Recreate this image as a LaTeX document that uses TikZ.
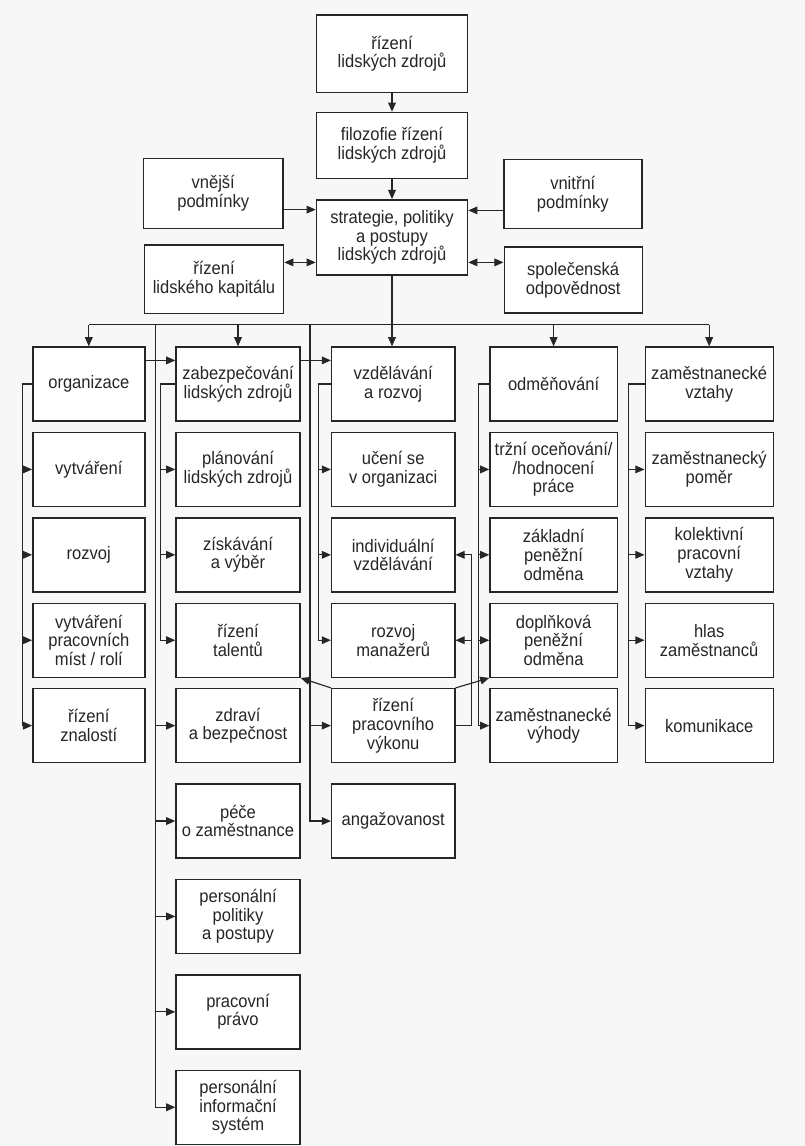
\documentclass[tikz,border=0pt]{standalone}
\usepackage{fontspec}
\setmainfont{Liberation Sans}[FakeStretch=0.92]
\usetikzlibrary{arrows.meta,positioning}

\begin{document}
\begin{tikzpicture}[->,>={Triangle[length=6.5pt,width=5.5pt]},thick,color=black!85,
                    node distance=0.25cm,
                    main node/.style={rectangle,draw,fill=white,line width=1pt,
                      minimum width=#1,minimum height=1.85cm,inner sep=1pt,align=center,
                      font=\fontsize{12.8}{13.3}\selectfont},
                    main node/.default=3.1cm]

  \fill[black!3,-] (0,0) rectangle (20.125,-28.65);

  % top part
  \node[main node=3.78cm,minimum height=1.93cm] (1) at (9.8,-1.34) {řízení\\lidských zdrojů};
  \node[main node=3.78cm,minimum height=1.65cm] (2) [below=0.47cm of 1] {filozofie řízení\\lidských zdrojů};
  \node[main node=3.78cm,minimum height=1.88cm] (3) [below=0.5cm of 2] {strategie, politiky\\a postupy\\lidských zdrojů};
  \node[main node=3.48cm,minimum height=1.75cm] (4) at (5.33,-4.83) {vnější\\podmínky};
  \node[main node=3.45cm,minimum height=1.72cm] (5) at (14.32,-4.85) {vnitřní\\podmínky};
  \node[main node=3.48cm,minimum height=1.72cm] (6) at (5.35,-6.98) {řízení\\lidského kapitálu};
  \node[main node=3.45cm,minimum height=1.65cm] (7) at (14.33,-7.0) {společenská\\odpovědnost};

  % organizace
  \node[main node=2.8cm] (10) at (2.22,-9.6) {organizace};
  \node[main node=2.8cm] (11) [below=of 10] {vytváření};
  \node[main node=2.8cm] (12) [below=of 11] {rozvoj};
  \node[main node=2.8cm] (13) [below=of 12] {vytváření\\pracovních\\míst / rolí};
  \node[main node=2.8cm] (14) [below=of 13] {řízení\\znalostí};

  % zabezpecovani
  \node[main node] (20) at (5.95,-9.6) {zabezpečování\\lidských zdrojů};
  \node[main node] (21) [below=of 20] {plánování\\lidských zdrojů};
  \node[main node] (22) [below=of 21] {získávání\\a výběr};
  \node[main node] (23) [below=of 22] {řízení\\talentů};
  \node[main node] (24) [below=of 23] {zdraví\\a bezpečnost};
  \node[main node] (25) [below=0.5cm of 24] {péče\\o zaměstnance};
  \node[main node] (26) [below=0.5cm of 25] {personální\\politiky\\a postupy};
  \node[main node] (27) [below=0.5cm of 26] {pracovní\\právo};
  \node[main node] (28) [below=0.5cm of 27] {personální\\informační\\systém};

  % vzdelavani
  \node[main node=3.08cm] (30) at (9.83,-9.6) {vzdělávání\\a rozvoj};
  \node[main node=3.08cm] (31) [below=of 30] {učení se\\v organizaci};
  \node[main node=3.08cm] (32) [below=of 31] {individuální\\vzdělávání};
  \node[main node=3.08cm] (33) [below=of 32] {rozvoj\\manažerů};
  \node[main node=3.08cm] (34) [below=of 33] {řízení\\pracovního\\výkonu};
  \node[main node=3.08cm] (35) [below=0.5cm of 34] {angažovanost};

  % odmenovani
  \node[main node=3.18cm] (40) at (13.84,-9.6) {odměňování};
  \node[main node=3.18cm] (41) [below=of 40] {tržní oceňování/\\/hodnocení\\práce};
  \node[main node=3.18cm] (42) [below=of 41] {základní\\peněžní\\odměna};
  \node[main node=3.18cm] (43) [below=of 42] {doplňková\\peněžní\\odměna};
  \node[main node=3.18cm] (44) [below=of 43] {zaměstnanecké\\výhody};

  % vztahy
  \node[main node=3.2cm] (50) at (17.73,-9.6) {zaměstnanecké\\vztahy};
  \node[main node=3.2cm] (51) [below=of 50] {zaměstnanecký\\poměr};
  \node[main node=3.2cm] (52) [below=of 51] {kolektivní\\pracovní\\vztahy};
  \node[main node=3.2cm] (53) [below=of 52] {hlas\\zaměstnanců};
  \node[main node=3.2cm] (54) [below=of 53] {komunikace};

  \path (1) edge (2)
        (2) edge (3)
        (3.south) edge (3.south |- 30.north);
  \draw (4.east |- 0,-5.24) -- (3.west |- 0,-5.24);
  \draw (5.west |- 0,-5.26) -- (3.east |- 0,-5.26);
  \draw[<->] (6.east |- 0,-6.56) -- (3.west |- 0,-6.56);
  \draw[<->] (3.east |- 0,-6.56) -- (7.west |- 0,-6.56);

  % bus
  \coordinate (bus) at (3.south |- 0,-8.12);
  \draw[-] (10.north |- bus) -- (50.north |- bus);
  \foreach \n in {10,20,40,50}
    \draw (\n.north |- bus) -- (\n.north);
  \coordinate (tB) at (3.88,-8.12);
  \coordinate (tC) at (7.75,-8.12);
  \draw (tB) |- (28.west);
  \foreach \n in {24,25,26,27}
    \draw (tB |- \n.west) -- (\n.west);
  \draw (tC) |- (35.west);
  \draw (tC |- 34.west) -- (34.west);

  \draw ([yshift=0.59cm]10.east) -- ([yshift=0.59cm]20.west);
  \draw ([yshift=0.59cm]20.east) -- ([yshift=0.59cm]30.west);

  % branches
  \draw (10.west) -- ++(-0.25,0) coordinate (bA) |- (14.west);
  \foreach \n in {11,12,13}
    \draw (bA |- \n.west) -- (\n.west);
  \draw (20.west) -- ++(-0.37,0) coordinate (bB) |- (23.west);
  \foreach \n in {21,22}
    \draw (bB |- \n.west) -- (\n.west);
  \draw (30.west) -- ++(-0.3,0) coordinate (bC) |- (33.west);
  \foreach \n in {31,32}
    \draw (bC |- \n.west) -- (\n.west);
  \draw (40.west) -- ++(-0.27,0) coordinate (bD) |- (44.west);
  \foreach \n in {41,42,43}
    \draw (bD |- \n.west) -- (\n.west);
  \draw (50.west) -- ++(-0.4,0) coordinate (bE) |- (54.west);
  \foreach \n in {51,52,53}
    \draw (bE |- \n.west) -- (\n.west);

  % rizeni pracovniho vykonu
  \path (34.north west) edge (23.south east)
        (34.north east) edge (43.south west);
  \draw (34.east) -- ++(0.41,0) coordinate (vC) |- (32.east);
  \draw (vC |- 33.east) -- (33.east);
\end{tikzpicture}
\end{document}
